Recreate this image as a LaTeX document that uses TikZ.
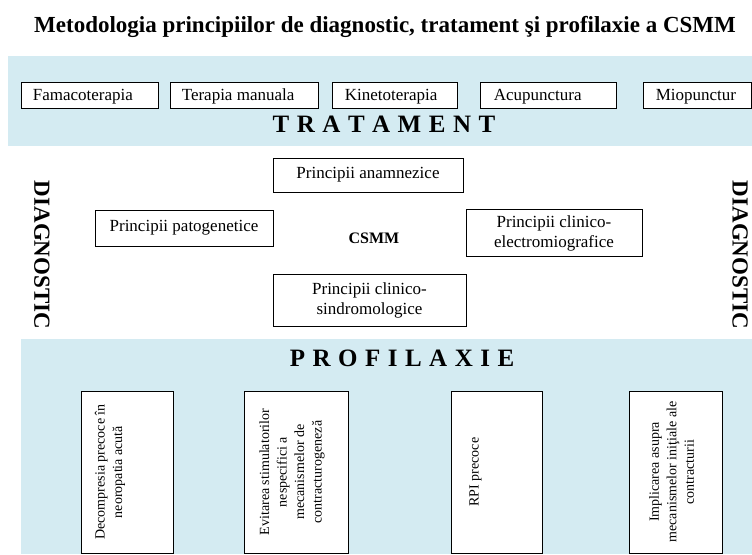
\documentclass[tikz,border=0pt]{standalone}
\usepackage{fontspec}
\setmainfont{Liberation Serif}
\definecolor{bandblue}{RGB}{212,235,242}
\newcommand{\widespace}{\spaceskip=7.5pt\relax}

\begin{document}
\begin{tikzpicture}[x=1pt,y=-1pt,
  box/.style={draw, line width=0.8pt, fill=white, inner sep=0pt, align=center, font=\fontsize{17}{20}\selectfont},
  rowbox/.style={box, minimum height=26pt},
  rowtext/.style={anchor=west, inner sep=0pt, text height=12pt, text depth=3.5pt, font=\fontsize{17}{20}\selectfont},
  vbox/.style={draw, line width=0.8pt, fill=white, minimum width=162pt, rotate=90},
  vtext/.style={align=center, rotate=90, font=\fontsize{14}{17.5}\selectfont},
  band/.style={fill=bandblue, draw=none},
  bandtitle/.style={font=\fontsize{25}{29}\selectfont\bfseries},
  sidetitle/.style={font=\fontsize{23}{27}\selectfont\bfseries, rotate=-90}]
\useasboundingbox (0,0) rectangle (752,554);
\fill[white] (0,0) rectangle (752,554);

\node[font=\fontsize{23}{27}\selectfont\bfseries] (title) at (385,27) {Metodologia principiilor de diagnostic, tratament şi profilaxie a CSMM};

% tratament
\fill[band] (8,56) rectangle (752,146);
\node[rowbox, minimum width=137pt] (fam) at (89.5,95) {};
\node[rowbox, minimum width=148pt] (man) at (244,95) {};
\node[rowbox, minimum width=125pt] (kin) at (394.5,95) {};
\node[rowbox, minimum width=136pt] (acu) at (548,95) {};
\node[rowbox, minimum width=108pt] (mio) at (697,95) {};
\node[rowtext] (famt) at ([xshift=12pt,yshift=-1.5pt]fam.west) {Famacoterapia};
\node[rowtext] (mant) at ([xshift=12pt,yshift=-1.5pt]man.west) {Terapia manuala};
\node[rowtext] (kint) at ([xshift=13pt,yshift=-1.5pt]kin.west) {Kinetoterapia};
\node[rowtext] (acut) at ([xshift=14pt,yshift=-1.5pt]acu.west) {Acupunctura};
\node[rowtext] (miot) at ([xshift=13pt,yshift=-1.5pt]mio.west) {Miopunctur};
\node[bandtitle] (trat) at (384,124) {\widespace T R A T A M E N T};

% diagnostic
\node[box, minimum width=190pt, minimum height=34pt] (anam) at (368,175) {Principii anamnezice};
\node[box, minimum width=178pt, minimum height=36pt] (pato) at (184,228) {Principii patogenetice};
\node[font=\fontsize{16}{19}\selectfont\bfseries] (csmm) at (374,238) {CSMM};
\node[box, minimum width=176pt, minimum height=47pt] (emg) at (554,233) {Principii clinico-\\electromiografice};
\node[box, minimum width=193pt, minimum height=52pt] (sind) at (369.5,300) {Principii clinico-\\sindromologice};
\node[sidetitle] (diagl) at (42,255) {DIAGNOSTIC};
\node[sidetitle] (diagr) at (740,255) {DIAGNOSTIC};

% profilaxie
\fill[band] (21,339) rectangle (752,554);
\node[bandtitle] (prof) at (402,358) {\widespace P R O F I L A X I E};
\node[vbox, minimum height=92pt] (dec) at (127,472) {};
\node[vbox, minimum height=104pt] (evit) at (296,472) {};
\node[vbox, minimum height=91pt] (rpi) at (496.5,472) {};
\node[vbox, minimum height=93pt] (impl) at (675.5,472) {};
\node[vtext] (dect) at ([xshift=-17pt]dec.center) {Decompresia precoce în\\neoropatia acută};
\node[vtext] (evitt) at ([xshift=-4pt]evit.center) {Evitarea stimulatorilor\\nespecifici a\\mecanismelor de\\contracturogeneză};
\node[vtext] (rpit) at ([xshift=-21pt]rpi.center) {RPI precoce};
\node[vtext] (implt) at ([xshift=-4pt]impl.center) {Implicarea asupra\\mecanismelor iniţiale ale\\contracturii};
\end{tikzpicture}
\end{document}
